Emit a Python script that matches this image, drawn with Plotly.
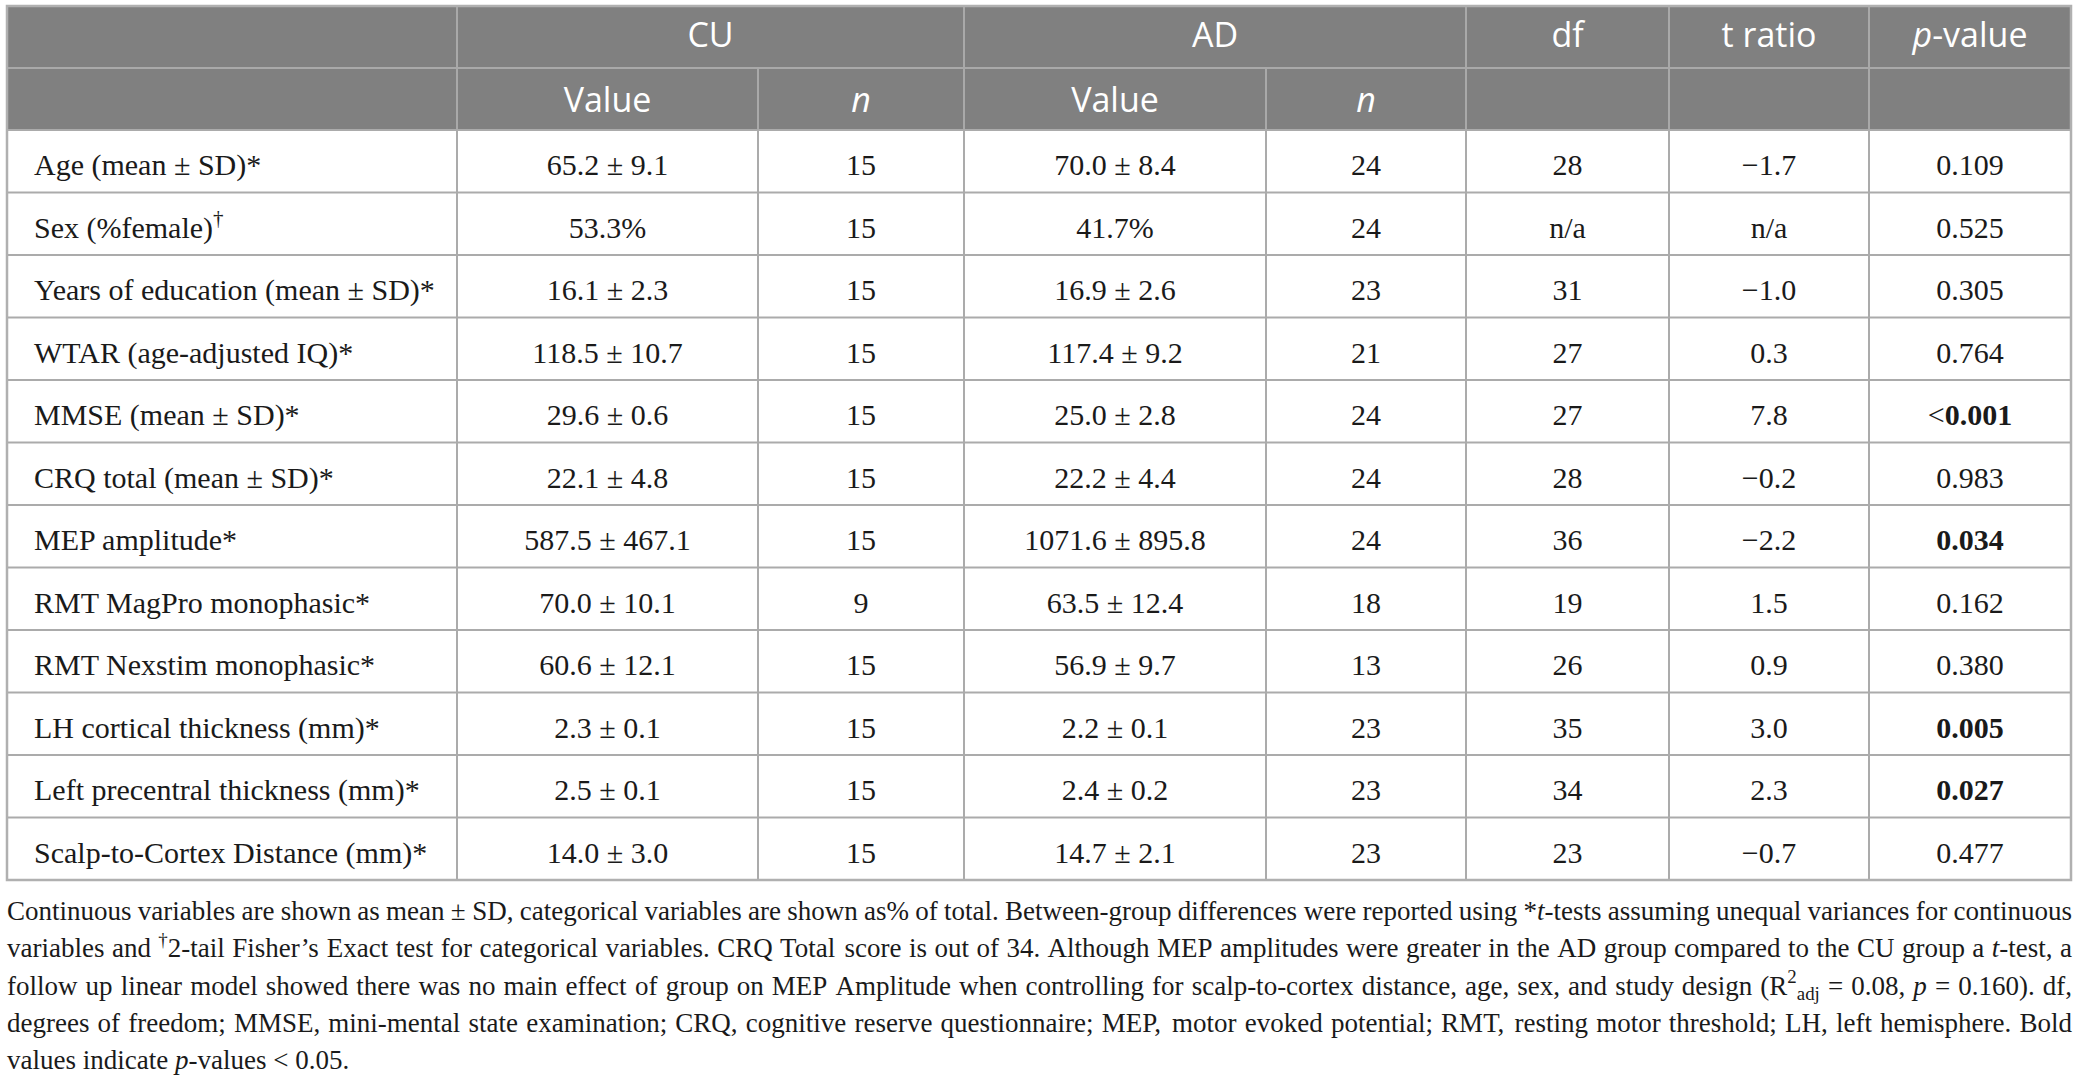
import plotly.graph_objects as go

W, H = 2077, 1081

# ---------------- data ----------------
row_labels = [
    "Age (mean ± SD)*",
    "Sex (%female)<sup>†</sup>",
    "Years of education (mean ± SD)*",
    "WTAR (age-adjusted IQ)*",
    "MMSE (mean ± SD)*",
    "CRQ total (mean ± SD)*",
    "MEP amplitude*",
    "RMT MagPro monophasic*",
    "RMT Nexstim monophasic*",
    "LH cortical thickness (mm)*",
    "Left precentral thickness (mm)*",
    "Scalp-to-Cortex Distance (mm)*",
]
cu_value = ["65.2 ± 9.1", "53.3%", "16.1 ± 2.3", "118.5 ± 10.7", "29.6 ± 0.6", "22.1 ± 4.8",
            "587.5 ± 467.1", "70.0 ± 10.1", "60.6 ± 12.1", "2.3 ± 0.1", "2.5 ± 0.1", "14.0 ± 3.0"]
cu_n = [15, 15, 15, 15, 15, 15, 15, 9, 15, 15, 15, 15]
ad_value = ["70.0 ± 8.4", "41.7%", "16.9 ± 2.6", "117.4 ± 9.2", "25.0 ± 2.8", "22.2 ± 4.4",
            "1071.6 ± 895.8", "63.5 ± 12.4", "56.9 ± 9.7", "2.2 ± 0.1", "2.4 ± 0.2", "14.7 ± 2.1"]
ad_n = [24, 24, 23, 21, 24, 24, 24, 18, 13, 23, 23, 23]
df_vals = ["28", "n/a", "31", "27", "27", "28", "36", "19", "26", "35", "34", "23"]
t_ratio = ["−1.7", "n/a", "−1.0", "0.3", "7.8", "−0.2", "−2.2", "1.5", "0.9", "3.0", "2.3", "−0.7"]
p_value = ["0.109", "0.525", "0.305", "0.764", "<0.001", "0.983", "0.034", "0.162", "0.380",
           "0.005", "0.027", "0.477"]

group_labels = ["CU", "AD"]
sub_labels = ["Value", "<i>n</i>"]
stat_labels = ["df", "t ratio", "<i>p</i>-value"]

caption_lines = [
    "Continuous variables are shown as mean ± SD, categorical variables are shown as% of total. "
    "Between-group differences were reported using *<i>t</i>-tests assuming unequal variances for continuous",
    "variables and <sup>†</sup>2-tail Fisher’s Exact test for categorical variables. CRQ Total score is out of 34. "
    "Although MEP amplitudes were greater in the AD group compared to the CU group a <i>t</i>-test, a",
    "follow up linear model showed there was no main effect of group on MEP Amplitude when controlling for "
    "scalp-to-cortex distance, age, sex, and study design (R<sup>2</sup><sub>adj</sub> = 0.08, <i>p</i> = 0.160). df,",
    "degrees of freedom; MMSE, mini-mental state examination; CRQ, cognitive reserve questionnaire; MEP, motor "
    "evoked potential; RMT, resting motor threshold; LH, left hemisphere. Bold",
    "values indicate <i>p</i>-values &lt; 0.05.",
]

# ---------------- layout geometry ----------------
col_edges = [7, 457, 758, 964, 1266, 1466, 1669, 1869, 2071]
top, h1, h2 = 6, 68, 130
row_h = 62.5
n_rows = len(row_labels)
bottom = h2 + row_h * n_rows

HEAD_BG = "#808080"
HEAD_LINE = "#a9a9a9"
BODY_LINE = "#ababab"
TXT = "#1a1a1a"
SERIF = "Liberation Serif, Times New Roman, serif"
SANS = "Open Sans, Noto Sans, sans-serif"
BODY_FS = 30
HEAD_FS = 34
CAP_FS = 27

fig = go.Figure()
shapes = []


def line(x0, y0, x1, y1, color, w=2):
    shapes.append(dict(type="line", xref="x", yref="y", x0=x0, y0=y0, x1=x1, y1=y1,
                       line=dict(color=color, width=w), layer="above"))


shapes.append(dict(type="rect", xref="x", yref="y", x0=col_edges[0], x1=col_edges[-1],
                   y0=top, y1=h2, fillcolor=HEAD_BG, line_width=0, layer="below"))
# header separators
line(col_edges[0], h1, col_edges[-1], h1, HEAD_LINE)
for i in [1, 3, 5, 6, 7]:
    line(col_edges[i], top, col_edges[i], h2, HEAD_LINE)
for i in [2, 4]:
    line(col_edges[i], h1, col_edges[i], h2, HEAD_LINE)
# body grid
for r in range(1, n_rows):
    line(col_edges[0], h2 + r * row_h, col_edges[-1], h2 + r * row_h, BODY_LINE)
line(col_edges[0], h2, col_edges[-1], h2, BODY_LINE)
for i in range(1, len(col_edges) - 1):
    line(col_edges[i], h2, col_edges[i], bottom, BODY_LINE)
# outer border
shapes.append(dict(type="rect", xref="x", yref="y", x0=col_edges[0], x1=col_edges[-1],
                   y0=top, y1=bottom, line=dict(color="#b0b0b0", width=2.5),
                   fillcolor="rgba(0,0,0,0)", layer="above"))

# text rows: plotly puts the baseline 0.25*fontsize below the anchor
row_y = [h2 + row_h * (i + 0.5) + 6.5 for i in range(n_rows)]
centers = [(col_edges[i] + col_edges[i + 1]) / 2 for i in range(len(col_edges) - 1)]


def fmt_p(p):
    num = float(p.lstrip("<"))
    if num < 0.05:
        if p.startswith("<"):
            return "&lt;<b>" + p[1:] + "</b>"
        return "<b>" + p + "</b>"
    return p


def text_trace(xs, ys, texts, pos="middle center", size=BODY_FS, color=TXT, family=SERIF):
    fig.add_trace(go.Scatter(x=xs, y=ys, text=texts, mode="text", textposition=pos,
                             textfont=dict(family=family, size=size, color=color),
                             hoverinfo="skip", showlegend=False, cliponaxis=False))


# body cells
text_trace([col_edges[0] + 27] * n_rows, row_y, row_labels, pos="middle right")
columns = [cu_value, [str(v) for v in cu_n], ad_value, [str(v) for v in ad_n],
           df_vals, t_ratio, [fmt_p(p) for p in p_value]]
for ci, vals in enumerate(columns):
    text_trace([centers[ci + 1]] * n_rows, row_y, vals)

# header cells
y1c = (top + h1) / 2 + 1.5
y2c = (h1 + h2) / 2 + 4.5
grp_x = [(col_edges[1] + col_edges[3]) / 2, (col_edges[3] + col_edges[5]) / 2]
text_trace(grp_x, [y1c] * 2, group_labels, size=HEAD_FS, color="white", family=SANS)
text_trace([centers[5], centers[6], centers[7]], [y1c] * 3, stat_labels,
           size=HEAD_FS, color="white", family=SANS)
text_trace([centers[1], centers[2], centers[3], centers[4]], [y2c] * 4, sub_labels * 2,
           size=HEAD_FS, color="white", family=SANS)

# ---------------- caption (justified by word placement) ----------------
TW = {' ': 250, '!': 333, '"': 408, '%': 833, '&': 778, "'": 180, '(': 333, ')': 333, '*': 500,
      '+': 564, ',': 250, '-': 333, '.': 250, '/': 278, ':': 278, ';': 278, '<': 564, '=': 564,
      '>': 564, '?': 444, '±': 564, '’': 333, '†': 500,
      'A': 722, 'B': 667, 'C': 667, 'D': 722, 'E': 611, 'F': 556, 'G': 722, 'H': 722, 'I': 333,
      'J': 389, 'K': 722, 'L': 611, 'M': 889, 'N': 722, 'O': 722, 'P': 556, 'Q': 722, 'R': 667,
      'S': 556, 'T': 611, 'U': 722, 'V': 722, 'W': 944, 'X': 722, 'Y': 722, 'Z': 611,
      'a': 444, 'b': 500, 'c': 444, 'd': 500, 'e': 444, 'f': 333, 'g': 500, 'h': 500, 'i': 278,
      'j': 278, 'k': 500, 'l': 278, 'm': 778, 'n': 500, 'o': 500, 'p': 500, 'q': 500, 'r': 333,
      's': 389, 't': 278, 'u': 500, 'v': 500, 'w': 722, 'x': 500, 'y': 500, 'z': 444}
for d in "0123456789":
    TW[d] = 500


def text_width(s, fs):
    s = s.replace("&lt;", "\x01")
    total = 0.0
    scale = 1.0
    i = 0
    while i < len(s):
        if s[i] == "<":
            j = s.index(">", i)
            tag = s[i + 1:j]
            if tag in ("sup", "sub"):
                scale = 0.7
            elif tag in ("/sup", "/sub"):
                scale = 1.0
            i = j + 1
            continue
        ch = "<" if s[i] == "\x01" else s[i]
        total += TW.get(ch, 500) * scale
        i += 1
    return total * fs / 1000.0


cap_left, cap_right = 7, 2072
cap_base0, cap_step = 920, 37.25
for li, ln in enumerate(caption_lines):
    words = ln.split(" ")
    widths = [text_width(w, CAP_FS) for w in words]
    space = TW[" "] * CAP_FS / 1000.0
    if li < len(caption_lines) - 1:
        gap = (cap_right - cap_left - sum(widths)) / (len(words) - 1)
        gap = max(gap, 0.6 * space)
    else:
        gap = space
    xs = []
    x = cap_left
    for w in widths:
        xs.append(x)
        x += w + gap
    yc = cap_base0 + li * cap_step - 0.25 * CAP_FS
    text_trace(xs, [yc] * len(words), words, pos="middle right", size=CAP_FS)

fig.update_layout(
    width=W, height=H, margin=dict(l=0, r=0, t=0, b=0),
    paper_bgcolor="white", plot_bgcolor="white",
    xaxis=dict(range=[0, W], visible=False, fixedrange=True),
    yaxis=dict(range=[H, 0], visible=False, fixedrange=True),
    shapes=shapes, showlegend=False,
)

fig.write_html("out.html", config={"displayModeBar": False, "staticPlot": True},
               post_script="document.body.style.margin='0';document.body.style.overflow='hidden';")
